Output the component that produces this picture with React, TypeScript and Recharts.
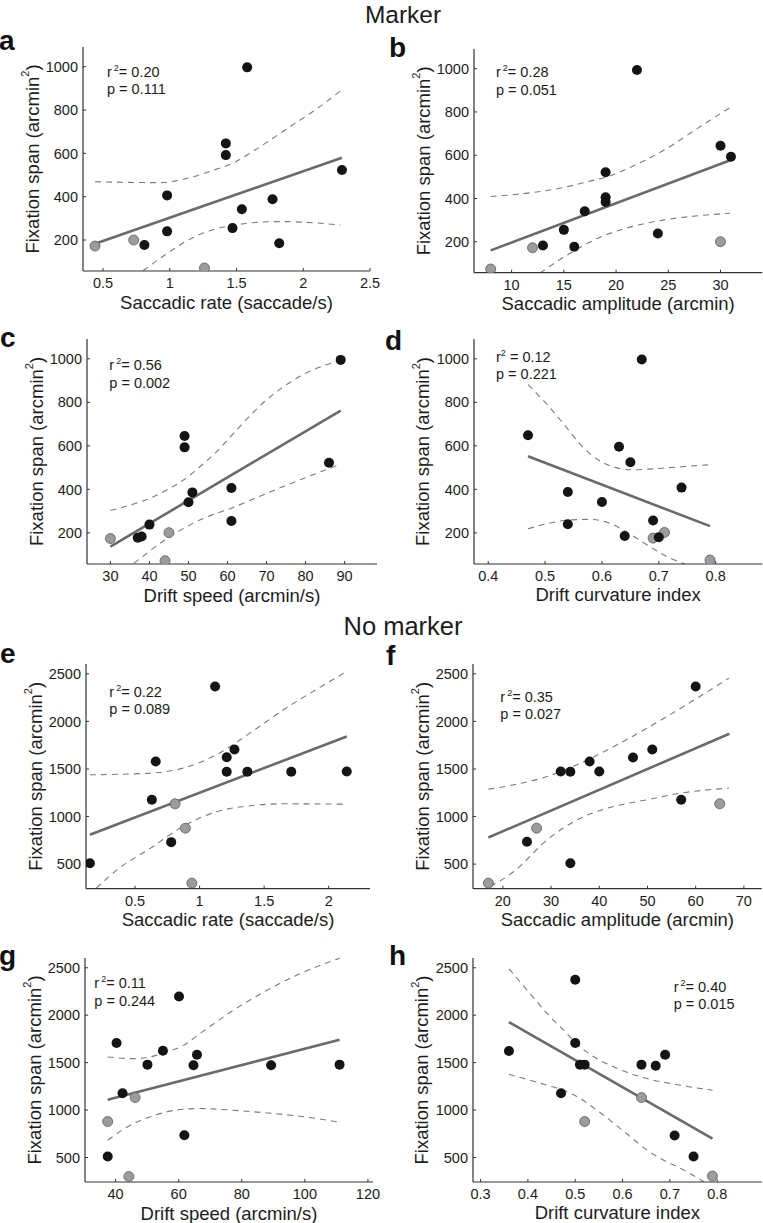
import React from "react";
import { ComposedChart, Scatter, Line, XAxis, YAxis } from "recharts";

type Pt = { x: number; y: number };

const FONT = "'Liberation Sans', Arial, Helvetica, sans-serif";
const INK = "#1c1c1c";

// ---- Marker ----
const aBlack: Pt[] = [
  { x: 0.81, y: 177 }, { x: 0.98, y: 406 }, { x: 0.98, y: 240 }, { x: 1.42, y: 646 },
  { x: 1.42, y: 592 }, { x: 1.47, y: 255 }, { x: 1.54, y: 342 }, { x: 1.58, y: 997 },
  { x: 1.77, y: 388 }, { x: 1.82, y: 185 }, { x: 2.29, y: 523 },
];
const aGray: Pt[] = [{ x: 0.44, y: 172 }, { x: 0.73, y: 200 }, { x: 1.26, y: 71 }];
const aFit: Pt[] = [{ x: 0.44, y: 183 }, { x: 2.29, y: 580 }];
const aUpper: Pt[] = [
  { x: 0.44, y: 469 }, { x: 0.93, y: 465 }, { x: 1.13, y: 485 }, { x: 1.33, y: 523 },
  { x: 1.48, y: 557 }, { x: 1.62, y: 608 }, { x: 1.77, y: 669 }, { x: 1.92, y: 731 },
  { x: 2.07, y: 792 }, { x: 2.28, y: 889 },
];
const aLower: Pt[] = [
  { x: 0.8, y: 58 }, { x: 0.98, y: 138 }, { x: 1.13, y: 197 }, { x: 1.33, y: 249 },
  { x: 1.48, y: 268 }, { x: 1.62, y: 280 }, { x: 1.82, y: 285 }, { x: 2.07, y: 280 },
  { x: 2.28, y: 269 },
];

const bBlack: Pt[] = [
  { x: 13, y: 183 }, { x: 15, y: 255 }, { x: 16, y: 177 }, { x: 17, y: 341 },
  { x: 19, y: 521 }, { x: 19, y: 406 }, { x: 19, y: 384 }, { x: 22, y: 994 },
  { x: 24, y: 238 }, { x: 30, y: 644 }, { x: 31, y: 593 },
];
const bGray: Pt[] = [{ x: 8, y: 74 }, { x: 12, y: 172 }, { x: 30, y: 200 }];
const bFit: Pt[] = [{ x: 8, y: 160 }, { x: 31, y: 578 }];
const bUpper: Pt[] = [
  { x: 8, y: 409 }, { x: 11.9, y: 427 }, { x: 15.1, y: 452 }, { x: 17.3, y: 478 },
  { x: 19.2, y: 501 }, { x: 21.5, y: 547 }, { x: 24.6, y: 624 }, { x: 27.8, y: 724 },
  { x: 30.9, y: 820 },
];
const bLower: Pt[] = [
  { x: 12.7, y: 55 }, { x: 15.1, y: 132 }, { x: 18.3, y: 217 }, { x: 21.5, y: 270 },
  { x: 24.6, y: 301 }, { x: 27.8, y: 320 }, { x: 30.9, y: 332 },
];

const cBlack: Pt[] = [
  { x: 37, y: 178 }, { x: 38, y: 183 }, { x: 40, y: 238 }, { x: 49, y: 645 },
  { x: 49, y: 593 }, { x: 50, y: 341 }, { x: 51, y: 386 }, { x: 61, y: 406 },
  { x: 61, y: 255 }, { x: 86, y: 522 }, { x: 89, y: 995 },
];
const cGray: Pt[] = [{ x: 30, y: 174 }, { x: 44, y: 72 }, { x: 45, y: 201 }];
const cFit: Pt[] = [{ x: 30, y: 137 }, { x: 89, y: 762 }];
const cUpper: Pt[] = [
  { x: 30, y: 303 }, { x: 36, y: 333 }, { x: 40.2, y: 359 }, { x: 44.5, y: 398 },
  { x: 48.8, y: 444 }, { x: 53, y: 505 }, { x: 57.3, y: 575 }, { x: 61.6, y: 659 },
  { x: 70.1, y: 813 }, { x: 78.6, y: 920 }, { x: 89, y: 994 },
];
const cLower: Pt[] = [
  { x: 36, y: 60 }, { x: 40.2, y: 118 }, { x: 44.5, y: 175 }, { x: 48.8, y: 221 },
  { x: 53, y: 260 }, { x: 61.6, y: 318 }, { x: 70.1, y: 382 }, { x: 78.6, y: 444 },
  { x: 89, y: 516 },
];

const dBlack: Pt[] = [
  { x: 0.47, y: 649 }, { x: 0.54, y: 388 }, { x: 0.54, y: 240 }, { x: 0.6, y: 342 },
  { x: 0.63, y: 596 }, { x: 0.64, y: 186 }, { x: 0.65, y: 525 }, { x: 0.67, y: 997 },
  { x: 0.69, y: 257 }, { x: 0.7, y: 180 }, { x: 0.74, y: 408 },
];
const dGray: Pt[] = [{ x: 0.69, y: 176 }, { x: 0.71, y: 202 }, { x: 0.79, y: 75 }];
const dFit: Pt[] = [{ x: 0.47, y: 552 }, { x: 0.79, y: 231 }];
const dUpper: Pt[] = [
  { x: 0.47, y: 881 }, { x: 0.505, y: 786 }, { x: 0.535, y: 693 }, { x: 0.564, y: 601 },
  { x: 0.593, y: 536 }, { x: 0.623, y: 501 }, { x: 0.652, y: 490 }, { x: 0.681, y: 493 },
  { x: 0.74, y: 504 }, { x: 0.79, y: 513 },
];
const dLower: Pt[] = [
  { x: 0.47, y: 219 }, { x: 0.505, y: 243 }, { x: 0.54, y: 259 }, { x: 0.576, y: 262 },
  { x: 0.611, y: 247 }, { x: 0.646, y: 200 }, { x: 0.681, y: 142 }, { x: 0.716, y: 89 },
  { x: 0.746, y: 57 },
];

// ---- No marker ----
const eBlack: Pt[] = [
  { x: 0.15, y: 510 }, { x: 0.63, y: 1176 }, { x: 0.66, y: 1579 }, { x: 0.78, y: 731 },
  { x: 1.12, y: 2367 }, { x: 1.21, y: 1624 }, { x: 1.21, y: 1470 }, { x: 1.27, y: 1705 },
  { x: 1.37, y: 1470 }, { x: 1.71, y: 1470 }, { x: 2.14, y: 1474 },
];
const eGray: Pt[] = [{ x: 0.81, y: 1134 }, { x: 0.89, y: 878 }, { x: 0.94, y: 300 }];
const eFit: Pt[] = [{ x: 0.15, y: 808 }, { x: 2.14, y: 1842 }];
const eUpper: Pt[] = [
  { x: 0.15, y: 1439 }, { x: 0.62, y: 1456 }, { x: 0.87, y: 1509 }, { x: 1.13, y: 1649 },
  { x: 1.39, y: 1877 }, { x: 1.65, y: 2122 }, { x: 1.9, y: 2332 }, { x: 2.14, y: 2525 },
];
const eLower: Pt[] = [
  { x: 0.2, y: 248 }, { x: 0.36, y: 440 }, { x: 0.62, y: 668 }, { x: 0.87, y: 896 },
  { x: 1.13, y: 1050 }, { x: 1.39, y: 1113 }, { x: 1.65, y: 1134 }, { x: 2.14, y: 1130 },
];

const fBlack: Pt[] = [
  { x: 25, y: 735 }, { x: 32, y: 1474 }, { x: 34, y: 1470 }, { x: 34, y: 510 },
  { x: 38, y: 1579 }, { x: 40, y: 1474 }, { x: 47, y: 1621 }, { x: 51, y: 1705 },
  { x: 57, y: 1176 }, { x: 60, y: 2367 },
];
const fGray: Pt[] = [{ x: 17, y: 300 }, { x: 27, y: 878 }, { x: 65, y: 1134 }];
const fFit: Pt[] = [{ x: 17, y: 780 }, { x: 67, y: 1870 }];
const fUpper: Pt[] = [
  { x: 17, y: 1288 }, { x: 22.3, y: 1334 }, { x: 29.2, y: 1421 }, { x: 36.1, y: 1561 },
  { x: 43, y: 1736 }, { x: 49.9, y: 1929 }, { x: 56.9, y: 2139 }, { x: 66.9, y: 2454 },
];
const fLower: Pt[] = [
  { x: 17.4, y: 265 }, { x: 22.3, y: 423 }, { x: 29.2, y: 756 }, { x: 36.1, y: 983 },
  { x: 43, y: 1106 }, { x: 49.9, y: 1176 }, { x: 56.9, y: 1246 }, { x: 66.9, y: 1299 },
];

const gBlack: Pt[] = [
  { x: 37.5, y: 511 }, { x: 40.3, y: 1707 }, { x: 42.2, y: 1177 }, { x: 50.1, y: 1479 },
  { x: 55, y: 1626 }, { x: 60.1, y: 2198 }, { x: 61.8, y: 735 }, { x: 64.7, y: 1472 },
  { x: 65.8, y: 1584 }, { x: 89.3, y: 1472 }, { x: 111, y: 1479 },
];
const gGray: Pt[] = [{ x: 37.5, y: 879 }, { x: 44.2, y: 300 }, { x: 46.2, y: 1132 }];
const gFit: Pt[] = [{ x: 37.5, y: 1110 }, { x: 111, y: 1742 }];
const gUpper: Pt[] = [
  { x: 37.5, y: 1560 }, { x: 45.6, y: 1542 }, { x: 50.9, y: 1560 }, { x: 56.2, y: 1612 },
  { x: 61.5, y: 1682 }, { x: 66.7, y: 1805 }, { x: 77.3, y: 2051 }, { x: 87.9, y: 2261 },
  { x: 98.4, y: 2437 }, { x: 111, y: 2600 },
];
const gLower: Pt[] = [
  { x: 37.5, y: 682 }, { x: 45.6, y: 858 }, { x: 50.9, y: 928 }, { x: 56.2, y: 981 },
  { x: 61.5, y: 1009 }, { x: 66.7, y: 1016 }, { x: 77.3, y: 998 }, { x: 87.9, y: 970 },
  { x: 98.4, y: 935 }, { x: 111, y: 872 },
];

const hBlack: Pt[] = [
  { x: 0.36, y: 1623 }, { x: 0.47, y: 1177 }, { x: 0.5, y: 2374 }, { x: 0.5, y: 1707 },
  { x: 0.51, y: 1479 }, { x: 0.52, y: 1479 }, { x: 0.64, y: 1479 }, { x: 0.67, y: 1468 },
  { x: 0.69, y: 1584 }, { x: 0.71, y: 732 }, { x: 0.75, y: 511 },
];
const hGray: Pt[] = [{ x: 0.52, y: 879 }, { x: 0.64, y: 1132 }, { x: 0.79, y: 304 }];
const hFit: Pt[] = [{ x: 0.36, y: 1928 }, { x: 0.79, y: 700 }];
const hUpper: Pt[] = [
  { x: 0.36, y: 2489 }, { x: 0.405, y: 2226 }, { x: 0.441, y: 2016 }, { x: 0.476, y: 1840 },
  { x: 0.511, y: 1665 }, { x: 0.546, y: 1542 }, { x: 0.582, y: 1454 }, { x: 0.617, y: 1384 },
  { x: 0.652, y: 1332 }, { x: 0.723, y: 1261 }, { x: 0.79, y: 1209 },
];
const hLower: Pt[] = [
  { x: 0.36, y: 1377 }, { x: 0.405, y: 1314 }, { x: 0.441, y: 1261 }, { x: 0.476, y: 1209 },
  { x: 0.511, y: 1121 }, { x: 0.546, y: 998 }, { x: 0.582, y: 858 }, { x: 0.617, y: 718 },
  { x: 0.652, y: 577 }, { x: 0.687, y: 472 }, { x: 0.723, y: 384 }, { x: 0.772, y: 244 },
];

const markerYTicks = [200, 400, 600, 800, 1000];
const noMarkerYTicks = [500, 1000, 1500, 2000, 2500];
const markerYDomain: [number, number] = [57, 1091];
const noMarkerYDomain: [number, number] = [242, 2603];

const rateTicks = [0.5, 1, 1.5, 2, 2.5];
const ampTicksMarker = [10, 15, 20, 25, 30];
const speedTicksMarker = [30, 40, 50, 60, 70, 80, 90];
const curvTicksMarker = [0.4, 0.5, 0.6, 0.7, 0.8];
const rateTicksNo = [0.5, 1, 1.5, 2];
const ampTicksNo = [20, 30, 40, 50, 60, 70];
const speedTicksNo = [40, 60, 80, 100, 120];
const curvTicksNo = [0.3, 0.4, 0.5, 0.6, 0.7, 0.8];

const YW = 83;
const RM = 16;

const blackDot = (p: any) => <circle cx={p.cx} cy={p.cy} r={5} fill="#141414" />;
const grayDot = (p: any) => (
  <circle cx={p.cx} cy={p.cy} r={5} fill="#9c9c9c" stroke="#5a5a5a" strokeWidth={0.8} />
);

function YLabel(props: any) {
  const vb = props.viewBox;
  const cx = vb.x + 32;
  const cy = vb.y + vb.height / 2;
  return (
    <text
      transform={`translate(${cx},${cy}) rotate(-90)`}
      textAnchor="middle"
      dominantBaseline="central"
      fontFamily={FONT}
      fontSize={18.5}
      fill={INK}
    >
      Fixation span (arcmin
      <tspan dy={-7} fontSize={11}>2</tspan>
      <tspan dy={7}>)</tspan>
    </text>
  );
}

function XLabel(text: string) {
  return (props: any) => {
    const vb = props.viewBox;
    return (
      <text
        x={vb.x + vb.width / 2}
        y={vb.y + 31}
        textAnchor="middle"
        dominantBaseline="central"
        fontFamily={FONT}
        fontSize={18.5}
        fill={INK}
      >
        {text}
      </text>
    );
  };
}

interface PanelProps {
  box: [number, number, number, number]; // left, right, top, bottom of plot
  xDomain: [number, number];
  xTicks: number[];
  yDomain: [number, number];
  yTicks: number[];
  xLabel: string;
  black: Pt[];
  gray: Pt[];
  fit: Pt[];
  upper: Pt[];
  lower: Pt[];
}

function Panel({ box, xDomain, xTicks, yDomain, yTicks, xLabel, black, gray, fit, upper, lower }: PanelProps) {
  const [l, r, t, b] = box;
  const w = YW + (r - l) + RM;
  const h = 10 + (b - t) + 45;
  const tick = { fontSize: 14.5, fill: INK, fontFamily: FONT };
  const axisLine = { stroke: "#333", strokeWidth: 1.2 };
  const tickLine = { stroke: "#333", strokeWidth: 1 };
  return (
    <div style={{ position: "absolute", left: l - YW, top: t - 10 }}>
      <ComposedChart width={w} height={h} margin={{ top: 10, right: RM, bottom: 0, left: 0 }}>
        <XAxis
          type="number"
          dataKey="x"
          domain={xDomain}
          ticks={xTicks}
          interval={0}
          allowDataOverflow
          height={45}
          axisLine={axisLine}
          tickLine={tickLine}
          tickSize={-3}
          tickMargin={10}
          tick={tick}
          label={XLabel(xLabel)}
        />
        <YAxis
          type="number"
          domain={yDomain}
          ticks={yTicks}
          interval={0}
          allowDataOverflow
          width={YW}
          axisLine={axisLine}
          tickLine={tickLine}
          tickSize={-3}
          tickMargin={8}
          tick={tick}
          label={YLabel}
        />
        <Line data={upper} dataKey="y" type="monotone" stroke="#7a7a7a" strokeWidth={1.1}
          strokeDasharray="6 5" dot={false} activeDot={false} isAnimationActive={false} />
        <Line data={lower} dataKey="y" type="monotone" stroke="#7a7a7a" strokeWidth={1.1}
          strokeDasharray="6 5" dot={false} activeDot={false} isAnimationActive={false} />
        <Line data={fit} dataKey="y" type="linear" stroke="#6a6a6a" strokeWidth={2.6}
          dot={false} activeDot={false} isAnimationActive={false} />
        <Scatter data={gray} dataKey="y" shape={grayDot} isAnimationActive={false} />
        <Scatter data={black} dataKey="y" shape={blackDot} isAnimationActive={false} />
      </ComposedChart>
    </div>
  );
}

function Stat({ x, y, r2, p, tight }: { x: number; y: number; r2: string; p: string; tight?: boolean }) {
  return (
    <g fontFamily={FONT} fontSize={14.5} fill={INK}>
      <text x={x} y={y}>
        r<tspan dx={tight ? 0 : 2} dy={-6} fontSize={9}>2</tspan>
        <tspan dy={6}>{tight ? " = " : "= "}{r2}</tspan>
      </text>
      <text x={x} y={y + 17.5}>p = {p}</text>
    </g>
  );
}

function Letter({ x, y, ch }: { x: number; y: number; ch: string }) {
  return (
    <text x={x} y={y} fontFamily={FONT} fontSize={28} fontWeight="bold" fill="#111">
      {ch}
    </text>
  );
}

export default function App() {
  return (
    <div style={{ position: "absolute", left: 0, top: 0, width: 763, height: 1223, overflow: "hidden", background: "#fff" }}>
      <Panel box={[83, 370, 47, 271]} xDomain={[0.35, 2.5]} xTicks={rateTicks} yDomain={markerYDomain}
        yTicks={markerYTicks} xLabel="Saccadic rate (saccade/s)" black={aBlack} gray={aGray} fit={aFit}
        upper={aUpper} lower={aLower} />
      <Panel box={[473.7, 762, 49.3, 273]} xDomain={[6.4, 34]} xTicks={ampTicksMarker} yDomain={markerYDomain}
        yTicks={markerYTicks} xLabel="Saccadic amplitude (arcmin)" black={bBlack} gray={bGray} fit={bFit}
        upper={bUpper} lower={bLower} />
      <Panel box={[86.7, 376.7, 339.3, 564.3]} xDomain={[24, 98.3]} xTicks={speedTicksMarker} yDomain={markerYDomain}
        yTicks={markerYTicks} xLabel="Drift speed (arcmin/s)" black={cBlack} gray={cGray} fit={cFit}
        upper={cUpper} lower={cLower} />
      <Panel box={[473.7, 762, 339.3, 564.3]} xDomain={[0.375, 0.882]} xTicks={curvTicksMarker} yDomain={markerYDomain}
        yTicks={markerYTicks} xLabel="Drift curvature index" black={dBlack} gray={dGray} fit={dFit}
        upper={dUpper} lower={dLower} />
      <Panel box={[86, 370, 664, 888.7]} xDomain={[0.12, 2.32]} xTicks={rateTicksNo} yDomain={noMarkerYDomain}
        yTicks={noMarkerYTicks} xLabel="Saccadic rate (saccade/s)" black={eBlack} gray={eGray} fit={eFit}
        upper={eUpper} lower={eLower} />
      <Panel box={[473.3, 762, 664, 888.7]} xDomain={[13.8, 73.7]} xTicks={ampTicksNo} yDomain={noMarkerYDomain}
        yTicks={noMarkerYTicks} xLabel="Saccadic amplitude (arcmin)" black={fBlack} gray={fGray} fit={fFit}
        upper={fUpper} lower={fLower} />
      <Panel box={[85, 373, 957.7, 1181.7]} xDomain={[30.3, 121.6]} xTicks={speedTicksNo} yDomain={noMarkerYDomain}
        yTicks={noMarkerYTicks} xLabel="Drift speed (arcmin/s)" black={gBlack} gray={gGray} fit={gFit}
        upper={gUpper} lower={gLower} />
      <Panel box={[473.3, 762, 957.7, 1181.7]} xDomain={[0.284, 0.894]} xTicks={curvTicksNo} yDomain={noMarkerYDomain}
        yTicks={noMarkerYTicks} xLabel="Drift curvature index" black={hBlack} gray={hGray} fit={hFit}
        upper={hUpper} lower={hLower} />

      <svg width={763} height={1223} style={{ position: "absolute", left: 0, top: 0, pointerEvents: "none" }}>
        <text x={403} y={23} textAnchor="middle" fontFamily={FONT} fontSize={24.5} fill={INK}>Marker</text>
        <text x={403} y={635} textAnchor="middle" fontFamily={FONT} fontSize={25.5} fill={INK}>No marker</text>

        <Letter x={-1} y={50} ch="a" />
        <Letter x={389} y={56.7} ch="b" />
        <Letter x={0} y={346.7} ch="c" />
        <Letter x={385} y={350} ch="d" />
        <Letter x={0} y={662.7} ch="e" />
        <Letter x={386} y={665} ch="f" />
        <Letter x={-1} y={965} ch="g" />
        <Letter x={389} y={965} ch="h" />

        <Stat x={107} y={76.7} r2="0.20" p="0.111" />
        <Stat x={496} y={77} r2="0.28" p="0.051" />
        <Stat x={109.3} y={370} r2="0.56" p="0.002" />
        <Stat x={496} y={361.7} r2="0.12" p="0.221" tight />
        <Stat x={109.3} y={696.7} r2="0.22" p="0.089" />
        <Stat x={500.3} y={701.7} r2="0.35" p="0.027" />
        <Stat x={94.3} y={988.3} r2="0.11" p="0.244" />
        <Stat x={673.7} y={991.7} r2="0.40" p="0.015" />
      </svg>
    </div>
  );
}
